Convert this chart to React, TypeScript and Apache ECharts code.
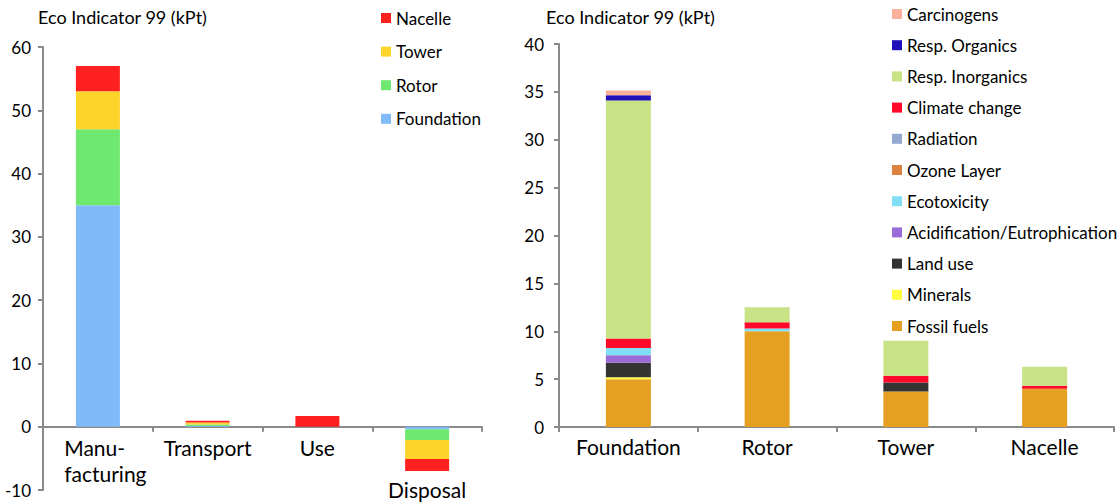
import React, { useEffect, useRef } from "react";
import * as echarts from "echarts";

const leftCategories = ["Manufacturing", "Transport", "Use", "Disposal"];
const leftFoundation = [35, 0.1, 0, -0.4];
const leftRotor = [12, 0.25, 0, -1.7];
const leftTower = [6, 0.3, 0, -3.0];
const leftNacelle = [4, 0.3, 1.7, -1.9];
const leftYTicks = { min: -10, max: 60, interval: 10 };

const rightCategories = ["Foundation", "Rotor", "Tower", "Nacelle"];
const fossilFuels = [5.0, 10.0, 3.7, 4.0];
const minerals = [0.2, 0, 0, 0];
const landUse = [1.5, 0, 0.95, 0];
const acidification = [0.8, 0, 0, 0];
const ecotoxicity = [0.75, 0.3, 0, 0];
const ozoneLayer = [0, 0, 0, 0];
const radiation = [0, 0, 0, 0];
const climateChange = [1.0, 0.65, 0.7, 0.3];
const respInorganics = [24.85, 1.55, 3.65, 2.0];
const respOrganics = [0.55, 0, 0, 0];
const carcinogens = [0.5, 0, 0, 0];
const rightYTicks = { min: 0, max: 40, interval: 5 };

const axisTitle = "Eco Indicator 99 (kPt)";
const FONT = "Lato, 'Open Sans', sans-serif";
const AXIS_COLOR = "#8a8a8a";

export default function App() {
  const ref = useRef<HTMLDivElement>(null);
  useEffect(() => {
    if (!ref.current) return;
    const chart = echarts.init(ref.current, undefined, { renderer: "svg" });

    const leftSeries = [
      { name: "Foundation", data: leftFoundation, color: "#80BAF8" },
      { name: "Rotor", data: leftRotor, color: "#6EE86E" },
      { name: "Tower", data: leftTower, color: "#FCD42A" },
      { name: "Nacelle", data: leftNacelle, color: "#FF2020" },
    ];
    const rightSeries = [
      { name: "Fossil fuels", data: fossilFuels, color: "#E5A021" },
      { name: "Minerals", data: minerals, color: "#FFFF40" },
      { name: "Land use", data: landUse, color: "#333331" },
      { name: "Acidification/Eutrophication", data: acidification, color: "#9A6AD8" },
      { name: "Ecotoxicity", data: ecotoxicity, color: "#80DFF5" },
      { name: "Ozone Layer", data: ozoneLayer, color: "#E0823F" },
      { name: "Radiation", data: radiation, color: "#94A9CF" },
      { name: "Climate change", data: climateChange, color: "#FF0A2A" },
      { name: "Resp. Inorganics", data: respInorganics, color: "#C8E386" },
      { name: "Resp. Organics", data: respOrganics, color: "#1F10B8" },
      { name: "Carcinogens", data: carcinogens, color: "#FBB09C" },
    ];

    const axisLine = { show: true, onZero: true, lineStyle: { color: AXIS_COLOR, width: 2 } };
    const axisTick = { show: true, inside: false, length: 5, lineStyle: { color: AXIS_COLOR, width: 2 } };

    const option: any = {
      animation: false,
      textStyle: { fontFamily: FONT },
      grid: [
        { left: 43, width: 439, top: 47, height: 443, outerBoundsMode: "none", containLabel: false },
        { left: 559, width: 555, top: 44, height: 383, outerBoundsMode: "none", containLabel: false },
      ],
      graphic: [
        {
          type: "text", left: 38, top: 8,
          style: { text: axisTitle, fontSize: 18, fontFamily: FONT, fill: "#000" },
        },
        {
          type: "text", left: 546, top: 8,
          style: { text: axisTitle, fontSize: 18, fontFamily: FONT, fill: "#000" },
        },
      ],
      legend: [
        {
          orient: "vertical", left: 381, top: 9, padding: 0,
          itemWidth: 10, itemHeight: 10, itemGap: 15.6, icon: "rect",
          data: leftSeries.map((s) => s.name).reverse(),
          textStyle: { fontSize: 17, lineHeight: 18, fontFamily: FONT, color: "#000" },
        },
        {
          orient: "vertical", left: 892, top: 5, padding: 0,
          itemWidth: 10, itemHeight: 10, itemGap: 13.2, icon: "rect",
          data: rightSeries.map((s) => s.name).reverse(),
          textStyle: { fontSize: 17, lineHeight: 18, fontFamily: FONT, color: "#000" },
        },
      ],
      xAxis: [
        {
          type: "category", gridIndex: 0, data: leftCategories,
          axisLine, axisTick: { ...axisTick, alignWithLabel: false },
          axisLabel: {
            margin: -56, interval: 0, color: "#000", fontSize: 21, fontFamily: FONT,
            formatter: (v: string, i: number) =>
              i === 0 ? "{l|Manu-}\n{l|facturing}" : i === 3 ? "{d|" + v + "}" : "{n|" + v + "}",
            rich: {
              l: { fontSize: 21, lineHeight: 26, align: "left", fontFamily: FONT, color: "#000", padding: [0, 0, 0, 15] },
              n: { fontSize: 21, lineHeight: 26, fontFamily: FONT, color: "#000" },
              d: { fontSize: 21, lineHeight: 26, fontFamily: FONT, color: "#000", padding: [84, 0, 0, 0] },
            },
          },
        },
        {
          type: "category", gridIndex: 1, data: rightCategories,
          axisLine, axisTick: { ...axisTick, alignWithLabel: false },
          axisLabel: { margin: 9, interval: 0, color: "#000", fontSize: 21, fontFamily: FONT },
        },
      ],
      yAxis: [
        {
          type: "value", gridIndex: 0, ...leftYTicks,
          axisLine, axisTick, splitLine: { show: false },
          axisLabel: { margin: 12, color: "#000", fontSize: 17, fontFamily: FONT },
        },
        {
          type: "value", gridIndex: 1, ...rightYTicks,
          axisLine, axisTick, splitLine: { show: false },
          axisLabel: { margin: 15, color: "#000", fontSize: 17, fontFamily: FONT },
        },
      ],
      series: [
        ...leftSeries.map((s) => ({
          type: "bar", name: s.name, data: s.data, stack: "left",
          xAxisIndex: 0, yAxisIndex: 0, barWidth: 44,
          itemStyle: { color: s.color },
        })),
        ...rightSeries.map((s) => ({
          type: "bar", name: s.name, data: s.data, stack: "right",
          xAxisIndex: 1, yAxisIndex: 1, barWidth: 45,
          itemStyle: { color: s.color },
        })),
      ],
    };
    chart.setOption(option);
    return () => chart.dispose();
  }, []);
  return (
    <div
      ref={ref}
      style={{ position: "absolute", left: 0, top: 0, width: 1117, height: 502, background: "#fff" }}
    />
  );
}
